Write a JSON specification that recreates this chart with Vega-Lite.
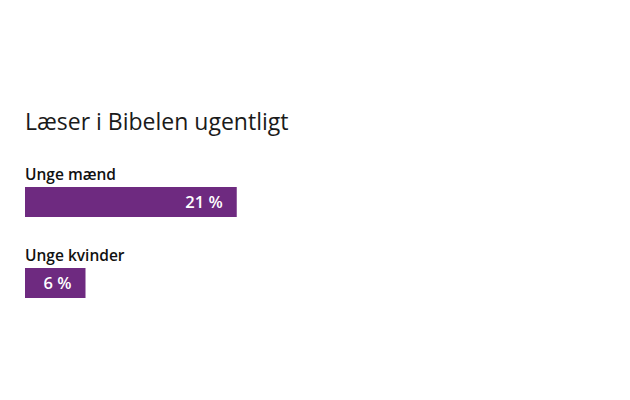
{
  "$schema": "https://vega.github.io/schema/vega-lite/v6.json",
  "autosize": "none",
  "padding": {"left": 25, "top": 161.5, "right": 0, "bottom": 0},
  "width": 605,
  "height": {"step": 81},
  "background": "white",
  "title": {
    "text": "Læser i Bibelen ugentligt",
    "anchor": "start",
    "font": "Open Sans",
    "fontSize": 23,
    "fontWeight": "normal",
    "color": "#1a1a1a",
    "baseline": "alphabetic",
    "offset": 9
  },
  "data": {
    "values": [
      {"gruppe": "Unge mænd", "andel": 21, "etiket": "21 %"},
      {"gruppe": "Unge kvinder", "andel": 6, "etiket": "6 %"}
    ]
  },
  "encoding": {
    "y": {
      "field": "gruppe",
      "type": "nominal",
      "sort": null,
      "axis": null,
      "scale": {"paddingInner": 0, "paddingOuter": 0}
    }
  },
  "layer": [
    {
      "mark": {"type": "bar", "size": 30, "color": "#6E2A80"},
      "encoding": {
        "x": {"field": "andel", "type": "quantitative", "axis": null, "scale": {"domain": [0, 59]}}
      }
    },
    {
      "mark": {"type": "text", "align": "left", "baseline": "alphabetic", "dy": -22, "font": "Open Sans", "fontSize": 15.5, "fontWeight": 600, "color": "#111111"},
      "encoding": {
        "x": {"datum": 0, "type": "quantitative"},
        "text": {"field": "gruppe"}
      }
    },
    {
      "mark": {"type": "text", "align": "right", "baseline": "alphabetic", "dx": -14, "dy": 6, "font": "Open Sans", "fontSize": 16.5, "fontWeight": 600, "color": "white"},
      "encoding": {
        "x": {"field": "andel", "type": "quantitative"},
        "text": {"field": "etiket"}
      }
    }
  ],
  "config": {"view": {"stroke": null}}
}
